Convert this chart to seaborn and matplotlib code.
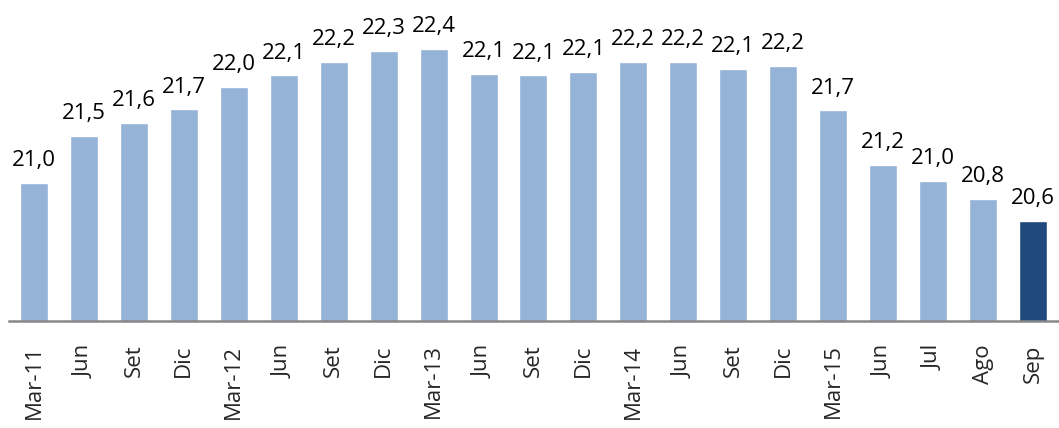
import matplotlib
matplotlib.use("Agg")
import matplotlib.pyplot as plt
import seaborn as sns
import pandas as pd

# periods, bar values and the printed labels
periods = ["Mar-11", "Jun", "Set", "Dic", "Mar-12", "Jun", "Set", "Dic",
           "Mar-13", "Jun", "Set", "Dic", "Mar-14", "Jun", "Set", "Dic",
           "Mar-15", "Jun", "Jul", "Ago", "Sep"]
values = [20.99, 21.48, 21.61, 21.75, 21.98, 22.10, 22.24, 22.35,
          22.37, 22.12, 22.10, 22.14, 22.24, 22.24, 22.17, 22.20,
          21.74, 21.18, 21.01, 20.83, 20.60]
labels = ["21,0", "21,5", "21,6", "21,7", "22,0", "22,1", "22,2", "22,3",
          "22,4", "22,1", "22,1", "22,1", "22,2", "22,2", "22,1", "22,2",
          "21,7", "21,2", "21,0", "20,8", "20,6"]

light = "#95B3D7"
dark = "#1F497D"

sns.set_style("white")
plt.rcParams["font.family"] = ["Open Sans", "DejaVu Sans"]

df = pd.DataFrame({"pos": [str(i) for i in range(len(values))], "value": values})
colors = [light] * (len(values) - 1) + [dark]

fig = plt.figure(figsize=(10.59, 4.28), dpi=100)
ax = fig.add_axes([0.0085, 0.25, 0.9905, 0.727])

sns.barplot(data=df, x="pos", y="value", hue="pos", palette=colors,
            legend=False, width=0.56, saturation=1, ax=ax)

ax.set_ylim(19.57, 22.776)
ax.set_xlim(-0.5, len(values) - 0.5)

for i, (v, lab) in enumerate(zip(values, labels)):
    ax.annotate(lab, (i, v), xytext=(0, 8.5), textcoords="offset points",
                ha="center", va="bottom", fontsize=16, color="black")

ax.set_xticks(range(len(periods)))
ax.set_xticklabels(periods, rotation=90, fontsize=16, va="top", ha="center")
ax.tick_params(axis="x", length=0, pad=17)
ax.set_yticks([])
ax.set_xlabel("")
ax.set_ylabel("")

for side in ["top", "right", "left"]:
    ax.spines[side].set_visible(False)
ax.spines["bottom"].set_color("#888888")
ax.spines["bottom"].set_linewidth(1.8)

fig.savefig("out.png", dpi=100)
